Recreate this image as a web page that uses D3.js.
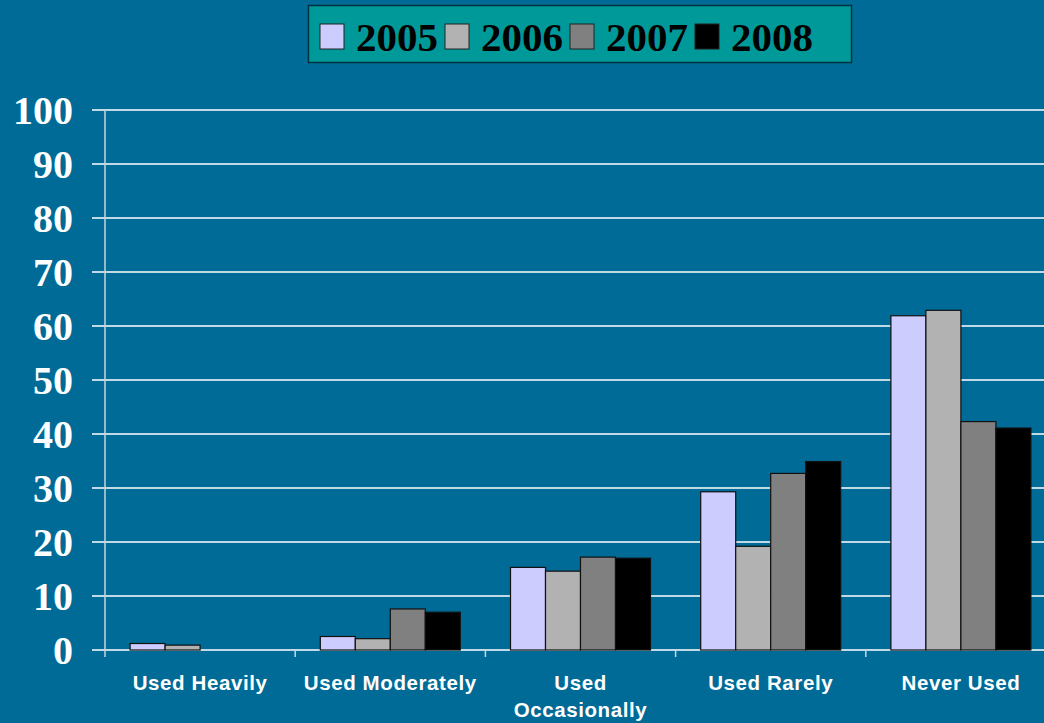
<!DOCTYPE html>
<meta charset="utf-8">
<style>
    body { margin: 0; background: #006b96; }
    svg { display: block; }
    .ylab { font: bold 40px "Liberation Serif", "Times New Roman", serif; fill: #fff; }
    .xlab { font: bold 20.5px "Liberation Sans", Arial, sans-serif; fill: #fff; letter-spacing: 0.6px; }
    .legtext { font: bold 41px "Liberation Serif", "Times New Roman", serif; fill: #000; }
</style>
<body>
<script src="https://d3js.org/d3.v7.min.js"></script>
<script>
    // data
    var categories = ["Used Heavily", "Used Moderately", "Used Occasionally", "Used Rarely", "Never Used"];
    var years = ["2005", "2006", "2007", "2008"];
    var v2005 = [1.2, 2.5, 15.3, 29.3, 61.9];
    var v2006 = [0.9, 2.1, 14.6, 19.2, 62.9];
    var v2007 = [0, 7.6, 17.2, 32.7, 42.3];
    var v2008 = [0, 7.0, 17.0, 34.9, 41.1];
    var yTicks = [0, 10, 20, 30, 40, 50, 60, 70, 80, 90, 100];
    var colors = ["#ccccff", "#b2b2b2", "#808080", "#000000"];

    var series = [v2005, v2006, v2007, v2008];

    var W = 1044, H = 723;
    var plotLeft = 105, plotTop = 110, plotBottom = 650, plotRight = 1056;

    var svg = d3.select("body").append("svg")
        .attr("width", W)
        .attr("height", H);

    var x0 = d3.scaleBand().domain(categories).range([plotLeft, plotRight]);
    var gap = x0.bandwidth() * 0.132;
    var x1 = d3.scaleBand().domain(years).range([gap, x0.bandwidth() - gap]);
    var y = d3.scaleLinear().domain([0, 100]).range([plotBottom, plotTop]);

    // gridlines + y labels
    svg.append("g").selectAll("line")
        .data(yTicks)
        .enter().append("line")
        .attr("x1", plotLeft - 13)
        .attr("x2", W)
        .attr("y1", function(d) { return y(d); })
        .attr("y2", function(d) { return y(d); })
        .attr("stroke", "#fff")
        .attr("stroke-width", 1.5);

    svg.append("g").selectAll("text")
        .data(yTicks)
        .enter().append("text")
        .attr("class", "ylab")
        .attr("x", 73)
        .attr("y", function(d) { return y(d); })
        .attr("dy", "0.35em")
        .attr("text-anchor", "end")
        .text(function(d) { return d; });

    // y axis line
    svg.append("line")
        .attr("x1", plotLeft).attr("x2", plotLeft)
        .attr("y1", plotTop).attr("y2", plotBottom + 7)
        .attr("stroke", "#c8d4dc")
        .attr("stroke-width", 1.5);

    // category ticks
    svg.append("g").selectAll("line")
        .data(categories.slice(1))
        .enter().append("line")
        .attr("x1", function(d) { return x0(d); })
        .attr("x2", function(d) { return x0(d); })
        .attr("y1", plotBottom)
        .attr("y2", plotBottom + 7)
        .attr("stroke", "#c8d4dc")
        .attr("stroke-width", 1.5);

    // bars
    var groups = svg.append("g").selectAll("g")
        .data(categories)
        .enter().append("g")
        .attr("transform", function(d) { return "translate(" + x0(d) + ",0)"; });

    groups.selectAll("rect")
        .data(function(d, i) {
            return years.map(function(yr, j) { return { year: yr, value: series[j][i], j: j }; })
                .filter(function(e) { return e.value > 0; });
        })
        .enter().append("rect")
        .attr("x", function(d) { return x1(d.year); })
        .attr("y", function(d) { return y(d.value); })
        .attr("width", x1.bandwidth())
        .attr("height", function(d) { return plotBottom - y(d.value); })
        .attr("fill", function(d) { return colors[d.j]; })
        .attr("stroke", "#111")
        .attr("stroke-width", 1.2);

    // x labels
    svg.append("g").selectAll("text")
        .data(categories)
        .enter().append("text")
        .attr("class", "xlab")
        .attr("text-anchor", "middle")
        .attr("x", function(d) { return x0(d) + x0.bandwidth() / 2; })
        .attr("y", 690)
        .each(function(d) {
            var t = d3.select(this);
            if (d == "Used Occasionally") {
                t.append("tspan").attr("x", x0(d) + x0.bandwidth() / 2).text("Used");
                t.append("tspan").attr("x", x0(d) + x0.bandwidth() / 2).attr("dy", 27).text("Occasionally");
            } else {
                t.text(d);
            }
        });

    // legend
    var legend = svg.append("g");
    legend.append("rect")
        .attr("x", 308.5).attr("y", 5.5)
        .attr("width", 543).attr("height", 57)
        .attr("fill", "#009999")
        .attr("stroke", "#00303c")
        .attr("stroke-width", 1.5);

    years.forEach(function(yr, i) {
        var lx = 320 + i * 125;
        legend.append("rect")
            .attr("x", lx).attr("y", 24)
            .attr("width", 24).attr("height", 25)
            .attr("fill", colors[i])
            .attr("stroke", "#222")
            .attr("stroke-width", 1);
        legend.append("text")
            .attr("class", "legtext")
            .attr("x", lx + 36)
            .attr("y", 51)
            .text(yr);
    });
</script>
</body>
